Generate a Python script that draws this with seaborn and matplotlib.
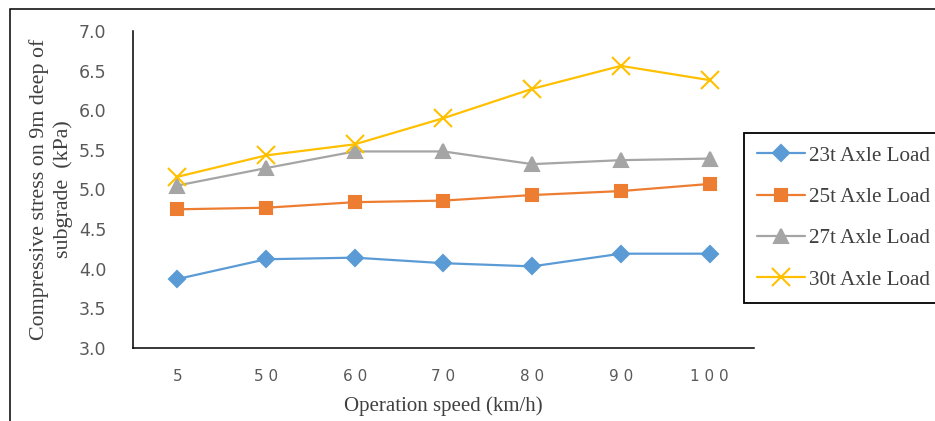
import numpy as np
import pandas as pd
import matplotlib
matplotlib.use("Agg")
import matplotlib.pyplot as plt
from matplotlib.ticker import FixedLocator, NullFormatter, FixedFormatter, FormatStrFormatter
from matplotlib.patches import Rectangle
import seaborn as sns

# === Datos ===
speeds = ["5", "50", "60", "70", "80", "90", "100"]
speed_labels = ["5", "5 0", "6 0", "7 0", "8 0", "9 0", "1 0 0"]
loads = ["23t Axle Load", "25t Axle Load", "27t Axle Load", "30t Axle Load"]
stress_23t = [3.87, 4.12, 4.14, 4.07, 4.03, 4.19, 4.19]
stress_25t = [4.75, 4.77, 4.84, 4.86, 4.93, 4.98, 5.07]
stress_27t = [5.05, 5.27, 5.48, 5.48, 5.32, 5.37, 5.39]
stress_30t = [5.16, 5.43, 5.57, 5.90, 6.27, 6.56, 6.38]
y_ticks = [3.0, 3.5, 4.0, 4.5, 5.0, 5.5, 6.0, 6.5, 7.0]

colors = ["#5B9BD5", "#ED7D31", "#A5A5A5", "#FFC000"]
markers = ["D", "s", "^", "x"]
marker_sizes = [8, 9, 10, 13]

df = pd.DataFrame({
    "speed": speeds * 4,
    "stress": stress_23t + stress_25t + stress_27t + stress_30t,
    "load": np.repeat(loads, len(speeds)),
})

# === Estilo ===
sns.set_style("white")
plt.rcParams["font.family"] = ["DejaVu Sans"]
serif = ["Liberation Serif", "DejaVu Serif"]
text_col = "#404040"
tick_col = "#595959"

fig = plt.figure(figsize=(9.35, 4.21), dpi=100)
ax = fig.add_axes([0.1422, 0.1734, 0.6642, 0.753])

sns.pointplot(
    data=df, x="speed", y="stress", hue="load",
    order=speeds, hue_order=loads, palette=colors,
    markers=markers, linestyles="-", errorbar=None,
    legend=False, ax=ax, linewidth=1.6,
)

series_lines = ax.lines[:len(loads)]
for line, ms in zip(series_lines, marker_sizes):
    line.set_markersize(ms)
    line.set_markeredgewidth(1.5)

# ejes
ax.set_xlim(-0.5, len(speeds) - 0.5)
ax.set_ylim(3.0, 7.0)
ax.xaxis.set_major_locator(FixedLocator(np.arange(-0.5, len(speeds), 1.0)))
ax.xaxis.set_major_formatter(NullFormatter())
ax.xaxis.set_minor_locator(FixedLocator(range(len(speeds))))
ax.xaxis.set_minor_formatter(FixedFormatter(speed_labels))
ax.tick_params(axis="x", which="major", direction="in", length=6, width=1.1, color="black")
ax.tick_params(axis="x", which="minor", length=0, pad=15, labelsize=11, labelcolor=tick_col)

ax.set_yticks(y_ticks)
ax.yaxis.set_major_formatter(FormatStrFormatter("%.1f"))
ax.tick_params(axis="y", direction="in", length=6, width=1.1, color="black",
               pad=19, labelsize=12.5, labelcolor=tick_col)

for side in ["top", "right"]:
    ax.spines[side].set_visible(False)
for side in ["left", "bottom"]:
    ax.spines[side].set_color("black")
    ax.spines[side].set_linewidth(1.1)

ax.set_xlabel("Operation speed (km/h)", family=serif, fontsize=15, color=text_col)
ax.xaxis.label.set_va("center")
ax.xaxis.set_label_coords(0.5, -0.183)
ax.set_ylabel("Compressive stress on 9m deep of\nsubgrade  (kPa)", family=serif,
              fontsize=15.8, color=text_col, linespacing=1.3)
ax.yaxis.label.set_va("center")
ax.yaxis.set_label_coords(-0.132, 0.5)

leg = ax.legend(
    series_lines, loads, loc="upper left",
    bbox_to_anchor=(744 / 935, 1 - 133 / 421), bbox_transform=fig.transFigure,
    prop={"family": serif, "size": 15.2}, labelcolor=text_col,
    frameon=True, fancybox=False, borderaxespad=0, borderpad=0.62,
    handlelength=2.25, handletextpad=0.2, labelspacing=1.02, numpoints=1,
)
leg.get_frame().set_edgecolor("black")
leg.get_frame().set_linewidth(1.3)
leg.get_frame().set_alpha(1)

# borde exterior
fig.add_artist(Rectangle((10 / 935, -0.1), 1.2, 1 - 9 / 421 + 0.1,
                         transform=fig.transFigure, fill=False,
                         edgecolor="black", linewidth=1.1))

fig.savefig("out.png", dpi=100)
